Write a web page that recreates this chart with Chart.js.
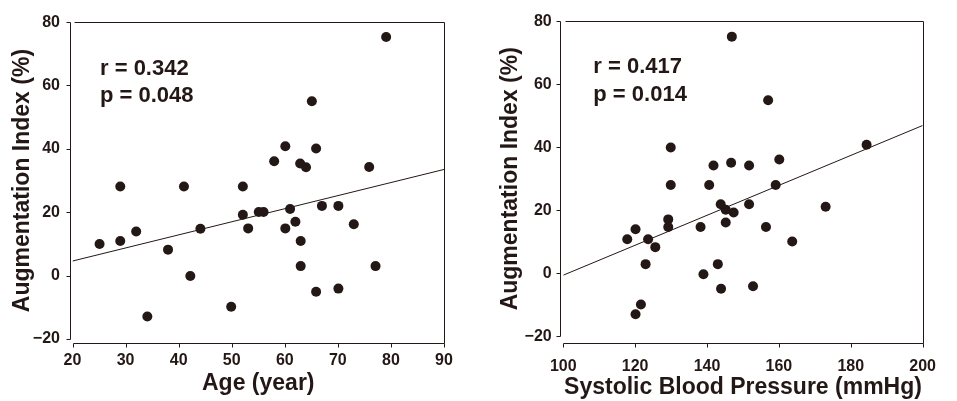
<!DOCTYPE html>
<html><head><meta charset="utf-8">
<script src="https://cdn.jsdelivr.net/npm/chart.js@4"></script>
<style>
html,body{margin:0;padding:0;background:#fff;overflow:hidden}
#wrap{position:relative;width:957px;height:401px}
canvas{position:absolute;top:0}
#c1{left:0}
#c2{left:478px}
</style></head><body>
<div id="wrap"><canvas id="c1" width="478" height="401"></canvas><canvas id="c2" width="479" height="401"></canvas></div>
<script>
// ---- data ----
const ageX = [25.1, 29.0, 29.0, 32.0, 34.1, 38.0, 41.0, 42.2, 44.1, 49.9, 52.1, 52.1, 53.1, 55.1, 56.0, 58.0, 60.1, 60.1, 61.0, 62.0, 62.9, 63.0, 63.0, 64.0, 65.1, 65.9, 65.9, 67.0, 70.1, 70.1, 73.0, 75.9, 77.1, 79.1];
const ageAI = [10.0, 28.1, 10.9, 13.9, -12.9, 8.2, 28.1, -0.1, 14.8, -9.8, 28.1, 19.2, 14.9, 20.1, 20.1, 36.1, 40.8, 14.9, 21.0, 17.0, 35.4, 10.9, 3.0, 34.2, 55.0, 40.1, -5.1, 22.0, 22.0, -4.1, 16.2, 34.3, 3.0, 75.3];
const sbpX = [117.8, 120.1, 120.1, 121.6, 122.9, 123.6, 125.6, 129.2, 129.2, 129.9, 129.9, 138.2, 139.0, 140.6, 141.8, 143.0, 143.8, 143.9, 145.2, 145.2, 146.7, 146.9, 147.4, 151.7, 151.7, 152.8, 156.4, 157.0, 159.1, 160.1, 163.7, 173.0, 184.4];
const sbpAI = [10.8, 14.0, -13.0, -9.9, 2.9, 10.8, 8.3, 17.1, 14.7, 39.9, 28.0, 14.7, -0.3, 28.0, 34.2, 2.9, 21.9, -4.9, 20.2, 16.1, 35.1, 75.1, 19.3, 34.2, 21.9, -4.1, 14.7, 54.9, 28.0, 36.1, 10.1, 21.1, 40.8];
const ageFitX = [20, 90];
const ageFitY = [4.6, 33.5];
const sbpFitX = [100, 200];
const sbpFitY = [-0.6, 46.9];
const ageTicks = [20, 30, 40, 50, 60, 70, 80, 90];
const sbpTicks = [100, 120, 140, 160, 180, 200];
const aiTicks = [-20, 0, 20, 40, 60, 80];
const ageStats = ['r = 0.342', 'p = 0.048'];
const sbpStats = ['r = 0.417', 'p = 0.014'];
const yTitle = 'Augmentation Index (%)';
const ageTitle = 'Age (year)';
const sbpTitle = 'Systolic Blood Pressure (mmHg)';

// ---- styling ----
const INK = '#231815';
const FONT = "'Liberation Sans', Arial, sans-serif";

const framePlugin = {
  id: 'frame',
  afterDatasetsDraw(chart, args, o) {
    const {ctx, chartArea: a, scales: {x, y}} = chart;
    const r = v => Math.round(v) + 0.5;
    const ax = r(a.left - o.yGap);
    const by = r(a.bottom + o.xGap);
    ctx.save();
    ctx.strokeStyle = INK;
    ctx.lineWidth = 1;
    ctx.beginPath();
    ctx.moveTo(ax, r(a.top)); ctx.lineTo(ax, r(a.bottom));
    y.ticks.forEach(t => { const p = r(y.getPixelForValue(t.value)); ctx.moveTo(ax - o.tick, p); ctx.lineTo(ax, p); });
    ctx.moveTo(r(a.left), by); ctx.lineTo(r(a.right), by);
    x.ticks.forEach(t => { const p = r(x.getPixelForValue(t.value)); ctx.moveTo(p, by); ctx.lineTo(p, by + o.tick); });
    ctx.moveTo(r(a.left + 1.5), r(a.top)); ctx.lineTo(r(a.right), r(a.top)); ctx.lineTo(r(a.right), by);
    ctx.stroke();
    ctx.fillStyle = INK;
    ctx.font = 'bold 22px ' + FONT;
    ctx.textBaseline = 'alphabetic';
    ctx.textAlign = 'left';
    o.stats.forEach((s, i) => ctx.fillText(s, a.left + o.textDx, a.top + o.textDy[i]));
    ctx.restore();
  }
};

function build(id, o) {
  return new Chart(document.getElementById(id), {
    type: 'scatter',
    data: { datasets: [
      { type: 'line', data: o.fitX.map((v, i) => ({x: v, y: o.fitY[i]})), borderColor: INK, borderWidth: 1, pointRadius: 0, fill: false, order: 2 },
      { data: o.xs.map((v, i) => ({x: v, y: o.ys[i]})), backgroundColor: INK, borderColor: INK, borderWidth: 0, pointRadius: 5, order: 1 }
    ]},
    options: {
      responsive: false, animation: false, devicePixelRatio: 1,
      layout: { padding: { top: o.top, right: o.padRight, left: 0, bottom: 0 } },
      plugins: { legend: { display: false }, tooltip: { enabled: false }, frame: o.frame },
      scales: {
        x: {
          type: 'linear', min: o.xTicks[0], max: o.xTicks[o.xTicks.length - 1],
          afterBuildTicks: s => { s.ticks = o.xTicks.map(v => ({value: v})); },
          afterFit: s => { s.height = o.xH; },
          grid: { display: false, drawTicks: false }, border: { display: false },
          ticks: { padding: o.xTickPad, color: INK, font: { family: FONT, size: 16, weight: 'bold' }, maxRotation: 0, autoSkip: false },
          title: { display: true, text: o.xTitle, color: INK, font: { family: FONT, size: 23, weight: 'bold' }, padding: { top: 0, bottom: o.xTitlePad } }
        },
        y: {
          type: 'linear', min: aiTicks[0], max: aiTicks[aiTicks.length - 1],
          afterBuildTicks: s => { s.ticks = aiTicks.map(v => ({value: v})); },
          afterFit: s => { s.width = o.yW; },
          grid: { display: false, drawTicks: false }, border: { display: false },
          ticks: { padding: o.yTickPad, color: INK, font: { family: FONT, size: 16, weight: 'bold' }, autoSkip: false,
                   callback: v => v < 0 ? '\u2212' + Math.abs(v) : String(v) },
          title: { display: true, text: yTitle, color: INK, font: { family: FONT, size: 23, weight: 'bold' }, padding: { top: o.yTitlePad, bottom: 0 } }
        }
      }
    },
    plugins: [framePlugin]
  });
}

build('c1', {
  xs: ageX, ys: ageAI, fitX: ageFitX, fitY: ageFitY, xTicks: ageTicks, xTitle: ageTitle,
  top: 20.7, padRight: 34, xH: 62, yW: 72.5,
  xTickPad: 12.4, yTickPad: 12.5, xTitlePad: 3.7, yTitlePad: 9.2,
  frame: { yGap: 3, xGap: 3.7, tick: 4, stats: ageStats, textDx: 27.5, textDy: [52.6, 80] }
});
build('c2', {
  xs: sbpX, ys: sbpAI, fitX: sbpFitX, fitY: sbpFitY, xTicks: sbpTicks, xTitle: sbpTitle,
  top: 20.7, padRight: 18, xH: 64.7, yW: 85.3,
  xTickPad: 21, yTickPad: 11.6, xTitlePad: 0, yTitlePad: 19.2,
  frame: { yGap: 3.3, xGap: 6.4, tick: 4, stats: sbpStats, textDx: 30, textDy: [52, 79.3] }
});
</script>
</body></html>
